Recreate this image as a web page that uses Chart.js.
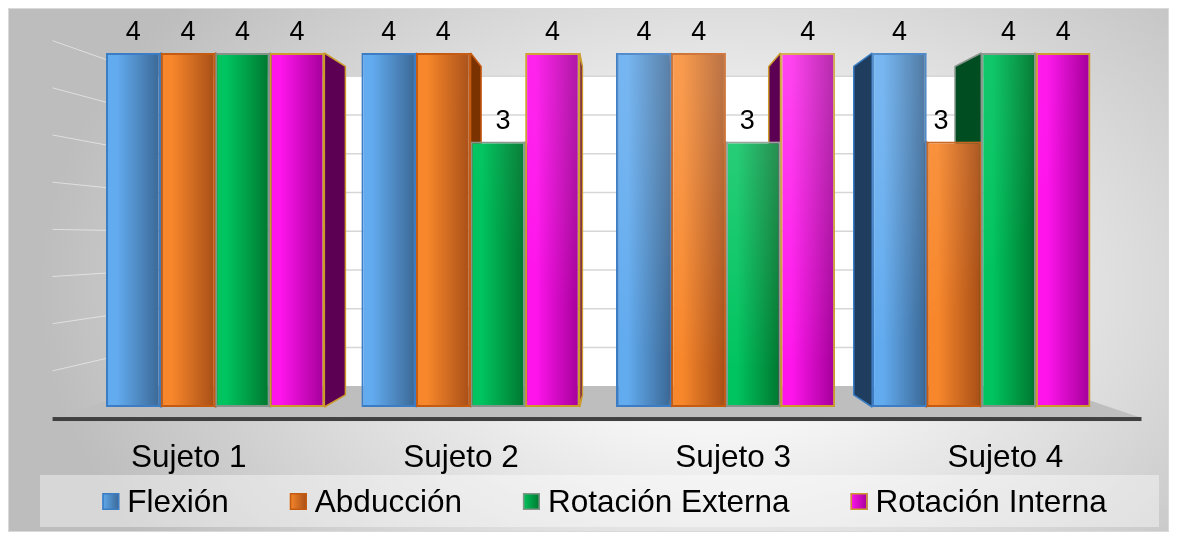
<!DOCTYPE html>
<html>
<head>
<meta charset="utf-8">
<script src="https://cdn.jsdelivr.net/npm/chart.js@4.4.1/dist/chart.umd.min.js"></script>
<style>
  html, body { margin: 0; padding: 0; background: #fff; }
</style>
</head>
<body>
<canvas id="c" width="1177" height="540"></canvas>
<script>
// data
const categories  = ['Sujeto 1', 'Sujeto 2', 'Sujeto 3', 'Sujeto 4'];
const seriesNames = ['Flexión', 'Abducción', 'Rotación Externa', 'Rotación Interna'];
const flexion     = [4, 4, 4, 4];
const abduccion   = [4, 4, 4, 3];
const rotExterna  = [4, 3, 3, 4];
const rotInterna  = [4, 4, 4, 4];
const yMax = 4;
const gridStep = 0.5;

// styles
const FONT = "'Liberation Sans', Arial, sans-serif";
const palette = [
  { light: '#62abef', dark: '#3a6794', side: '#1f3d5f', edge: '#3b7cc4' },
  { light: '#f8872b', dark: '#a64e17', side: '#7a3300', edge: '#c55a11' },
  { light: '#00c45f', dark: '#00762e', side: '#004d22', edge: '#85948a' },
  { light: '#ff14ec', dark: '#a30098', side: '#5c0054', edge: '#cc9b2a' },
];
const VIEW  = { fx: 0.518, fy: 0.528 };                        // vanishing point inside chart area
const DEPTH = { floorFront: 1.066, barBack: 0.928, wall: 0.875 }; // perspective scale factors
const CAT_PCT = 0.855;
const LEGEND = { left: 40, right: 1159, top: 475, bottom: 527 };

function vp(chart) {
  const a = chart.chartArea;
  return { x: a.left + a.width * VIEW.fx, y: a.top + a.height * VIEW.fy };
}
function proj(v, x, y, s) {
  return [v.x + (x - v.x) * s, v.y + (y - v.y) * s];
}

function frontFill(c) {
  const p = palette[c.datasetIndex];
  const chart = c.chart;
  if (!chart.chartArea || !chart.scales.x) return p.light;
  const xs = chart.scales.x;
  const bw = xs.width / categories.length * CAT_PCT / seriesNames.length;
  const x0 = xs.getPixelForValue(c.dataIndex) - bw * seriesNames.length / 2 + c.datasetIndex * bw;
  const g = chart.ctx.createLinearGradient(x0, 0, x0 + bw, 0);
  g.addColorStop(0, p.light);
  g.addColorStop(0.2, p.light);
  g.addColorStop(1, p.dark);
  return g;
}

const scenePlugin = {
  id: 'scene',
  beforeDraw(chart) {
    const { ctx, width, height } = chart;
    ctx.save();
    ctx.fillStyle = '#ffffff';
    ctx.fillRect(0, 0, width, height);
    // framed background with soft radial light
    ctx.save();
    ctx.beginPath();
    ctx.rect(8, 8, width - 16, height - 16);
    ctx.clip();
    ctx.translate(720, 290);
    ctx.scale(1.45, 1);
    const g = ctx.createRadialGradient(0, 0, 0, 0, 0, 470);
    g.addColorStop(0, '#ffffff');
    g.addColorStop(0.3, '#f5f5f5');
    g.addColorStop(1, '#bdbdbd');
    ctx.fillStyle = g;
    ctx.fillRect(-600, -400, 1200, 800);
    ctx.restore();
    ctx.strokeStyle = '#d9d9d9';
    ctx.lineWidth = 1;
    ctx.strokeRect(8.5, 8.5, width - 17, height - 17);
    // legend panel
    ctx.fillStyle = 'rgba(255,255,255,0.4)';
    ctx.fillRect(LEGEND.left, LEGEND.top, LEGEND.right - LEGEND.left, LEGEND.bottom - LEGEND.top);
    ctx.restore();
  },
  beforeDatasetsDraw(chart) {
    const { ctx, chartArea: a } = chart;
    const ys = chart.scales.y;
    const v = vp(chart);
    const base = ys.getPixelForValue(0);
    ctx.save();

    // back wall
    const [wl, wb] = proj(v, a.left, base, DEPTH.wall);
    const [wr] = proj(v, a.right, base, DEPTH.wall);
    const wt = proj(v, a.left, ys.getPixelForValue(yMax), DEPTH.wall)[1];
    ctx.fillStyle = '#ffffff';
    ctx.fillRect(wl, wt, wr - wl, wb - wt);
    ctx.strokeStyle = '#d6d6d6';
    ctx.lineWidth = 1.5;
    for (let val = gridStep; val <= yMax + 1e-6; val += gridStep) {
      const yy = proj(v, a.left, ys.getPixelForValue(val), DEPTH.wall)[1];
      ctx.beginPath();
      ctx.moveTo(wl, yy);
      ctx.lineTo(wr, yy);
      ctx.stroke();
    }
    // left wall gridlines, very faint
    ctx.strokeStyle = 'rgba(255,255,255,0.5)';
    ctx.lineWidth = 1;
    for (let val = gridStep; val <= yMax + 1e-6; val += gridStep) {
      const py = ys.getPixelForValue(val);
      const p1 = proj(v, a.left, py, DEPTH.floorFront);
      const p2 = proj(v, a.left, py, DEPTH.wall);
      ctx.beginPath();
      ctx.moveTo(p1[0], p1[1]);
      ctx.lineTo(p2[0], p2[1]);
      ctx.stroke();
    }

    // floor
    const f1 = proj(v, a.left, base, DEPTH.floorFront);
    const f2 = proj(v, a.right, base, DEPTH.floorFront);
    const f3 = proj(v, a.right, base, DEPTH.wall);
    const f4 = proj(v, a.left, base, DEPTH.wall);
    ctx.fillStyle = '#bebebe';
    ctx.beginPath();
    ctx.moveTo(f1[0], f1[1]);
    ctx.lineTo(f2[0], f2[1]);
    ctx.lineTo(f3[0], f3[1]);
    ctx.lineTo(f4[0], f4[1]);
    ctx.closePath();
    ctx.fill();
    ctx.fillStyle = '#404040';
    ctx.fillRect(f1[0], f1[1] - 1, f2[0] - f1[0], 4);

    // side faces of the columns
    ctx.lineJoin = 'bevel';
    chart.data.datasets.forEach((ds, di) => {
      const p = palette[di];
      chart.getDatasetMeta(di).data.forEach((bar) => {
        const { x, y, base: b, width } = bar.getProps(['x', 'y', 'base', 'width'], true);
        const xl = x - width / 2, xr = x + width / 2;
        let xe = null;
        if (xr < v.x) xe = xr;
        else if (xl > v.x) xe = xl;
        if (xe === null) return;
        const t = proj(v, xe, y, DEPTH.barBack);
        const bt = proj(v, xe, b, DEPTH.barBack);
        ctx.fillStyle = p.side;
        ctx.strokeStyle = p.edge;
        ctx.lineWidth = 1.5;
        ctx.beginPath();
        ctx.moveTo(xe, y);
        ctx.lineTo(t[0], t[1]);
        ctx.lineTo(bt[0], bt[1]);
        ctx.lineTo(xe, b);
        ctx.closePath();
        ctx.fill();
        ctx.stroke();
      });
    });
    ctx.restore();
  },
  afterDatasetsDraw(chart) {
    const { ctx, chartArea: a } = chart;
    const xs = chart.scales.x, ys = chart.scales.y;
    const v = vp(chart);
    const base = ys.getPixelForValue(0);
    ctx.save();

    // light spot on the upper right columns
    ctx.save();
    ctx.beginPath();
    chart.data.datasets.forEach((ds, di) => {
      chart.getDatasetMeta(di).data.forEach((bar) => {
        ctx.rect(bar.x - bar.width / 2, bar.y, bar.width, bar.base - bar.y);
      });
    });
    ctx.clip();
    const hx = a.left + a.width * 0.66, hy = a.top;
    const hl = ctx.createRadialGradient(hx, hy, 0, hx, hy, 320);
    hl.addColorStop(0, 'rgba(255,255,255,0.22)');
    hl.addColorStop(1, 'rgba(255,255,255,0)');
    ctx.fillStyle = hl;
    ctx.fillRect(a.left, a.top, a.width, a.height);
    ctx.restore();

    // value labels
    ctx.fillStyle = '#000';
    ctx.font = `27px ${FONT}`;
    ctx.textAlign = 'center';
    ctx.textBaseline = 'alphabetic';
    chart.data.datasets.forEach((ds, di) => {
      chart.getDatasetMeta(di).data.forEach((bar, i) => {
        let l = bar.x - bar.width / 2, r = bar.x + bar.width / 2;
        const prev = di > 0 ? chart.getDatasetMeta(di - 1).data[i] : null;
        const next = di < chart.data.datasets.length - 1 ? chart.getDatasetMeta(di + 1).data[i] : null;
        if (prev && prev.y < bar.y - 1 && prev.x + prev.width / 2 < v.x) l = proj(v, l, 0, DEPTH.barBack)[0];
        if (next && next.y < bar.y - 1 && next.x - next.width / 2 > v.x) r = proj(v, r, 0, DEPTH.barBack)[0];
        ctx.fillText(String(ds.data[i]), (l + r) / 2, bar.y - 13);
      });
    });

    // category labels along the floor edge
    ctx.font = `31.5px ${FONT}`;
    categories.forEach((cat, i) => {
      const p = proj(v, xs.getPixelForValue(i), base, DEPTH.floorFront);
      ctx.fillText(cat, p[0], p[1] + 49);
    });

    // legend
    ctx.font = `31.5px ${FONT}`;
    ctx.textAlign = 'left';
    const box = 17, gap = 8, spacing = 61;
    const widths = chart.data.datasets.map(ds => box + gap + ctx.measureText(ds.label).width);
    const total = widths.reduce((s, w) => s + w, 0) + spacing * (widths.length - 1);
    let lx = (LEGEND.left + LEGEND.right) / 2 + 5 - total / 2;
    const baseline = 512;
    chart.data.datasets.forEach((ds, di) => {
      const p = palette[di];
      const g = ctx.createLinearGradient(lx, 0, lx + box, 0);
      g.addColorStop(0, p.light);
      g.addColorStop(1, p.dark);
      ctx.fillStyle = g;
      ctx.fillRect(lx, baseline - 19, box, box);
      ctx.strokeStyle = p.edge;
      ctx.lineWidth = 1.5;
      ctx.strokeRect(lx + 0.75, baseline - 19 + 0.75, box - 1.5, box - 1.5);
      ctx.fillStyle = '#000';
      ctx.fillText(ds.label, lx + box + gap, baseline);
      lx += widths[di] + spacing;
    });
    ctx.restore();
  },
};

const seriesData = [flexion, abduccion, rotExterna, rotInterna];

new Chart(document.getElementById('c'), {
  type: 'bar',
  data: {
    labels: categories,
    datasets: seriesNames.map((name, k) => ({
      label: name,
      data: seriesData[k],
      backgroundColor: frontFill,
      borderColor: palette[k].edge,
      borderWidth: 2,
      borderSkipped: false,
      categoryPercentage: CAT_PCT,
      barPercentage: 1,
    })),
  },
  options: {
    responsive: false,
    animation: false,
    devicePixelRatio: 1,
    layout: { padding: { left: 87.5, right: 68, top: 53, bottom: 133 } },
    scales: {
      x: { display: false, grid: { display: false } },
      y: { display: false, min: 0, max: yMax, grid: { display: false } },
    },
    plugins: {
      legend: { display: false },
      tooltip: { enabled: false },
    },
  },
  plugins: [scenePlugin],
});
</script>
</body>
</html>
